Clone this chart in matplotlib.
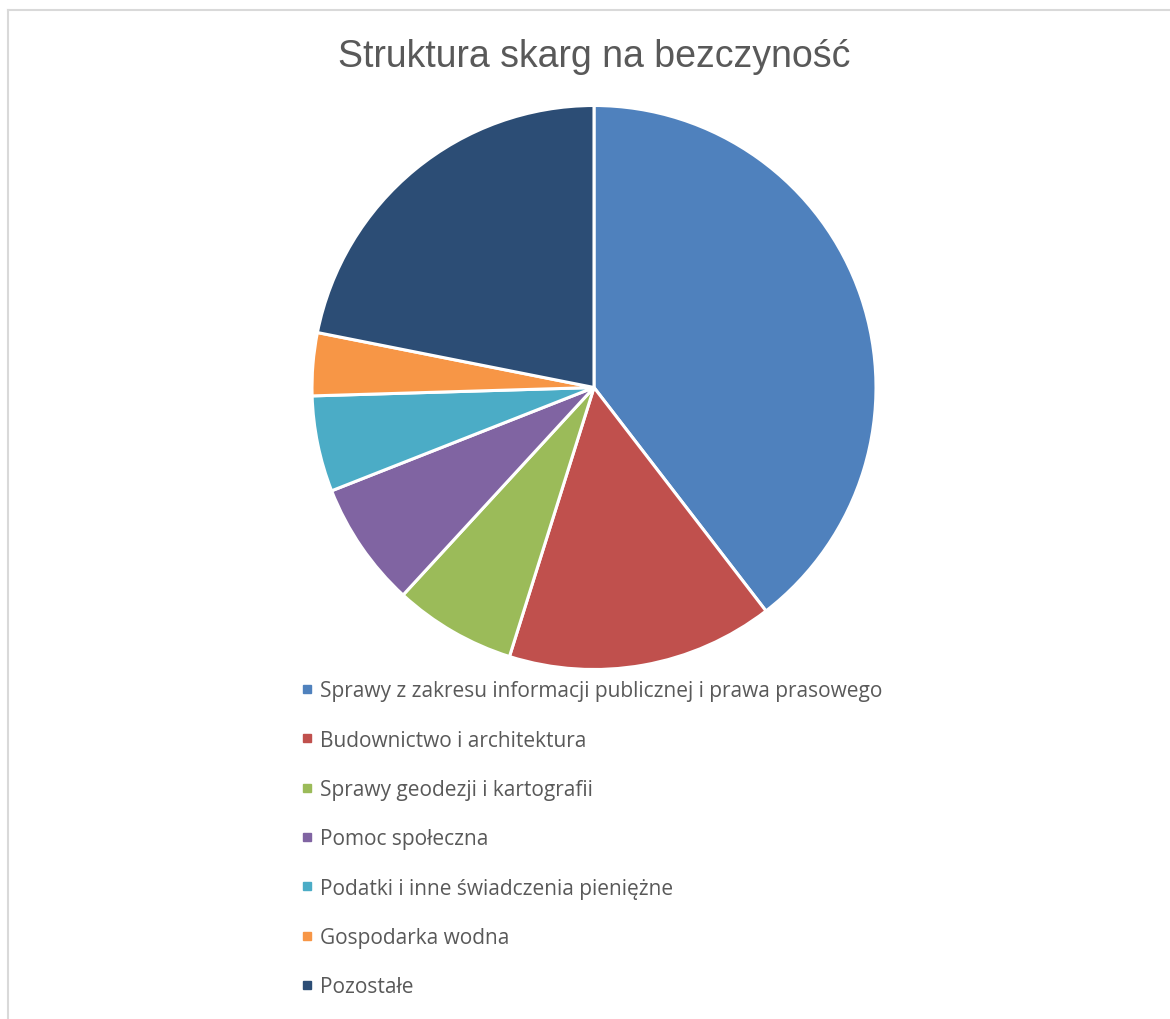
import matplotlib.pyplot as plt
from matplotlib.lines import Line2D

categories = [
    "Sprawy z zakresu informacji publicznej i prawa prasowego",
    "Budownictwo i architektura",
    "Sprawy geodezji i kartografii",
    "Pomoc społeczna",
    "Podatki i inne świadczenia pieniężne",
    "Gospodarka wodna",
    "Pozostałe",
]
shares = [39.6, 15.3, 7.0, 7.2, 5.5, 3.6, 21.9]
colors = ["#4F81BD", "#C0504D", "#9BBB59", "#8064A2", "#4BACC6", "#F79646", "#2C4D75"]

W, H = 1170, 1020
fig = plt.figure(figsize=(W / 100, H / 100), dpi=100)

# thin grey frame on top and left, as in the original export
fig.add_artist(Line2D([7.5 / W, 7.5 / W], [0, 1 - 11 / H], color="#d9d9d9", lw=1.5))
fig.add_artist(Line2D([7.5 / W, 1], [1 - 11 / H, 1 - 11 / H], color="#d9d9d9", lw=1.5))

cx, cy, r = 594, 388.5, 282
ax = fig.add_axes([(cx - r) / W, (H - cy - r) / H, 2 * r / W, 2 * r / H])
ax.pie(shares, colors=colors, startangle=90, counterclock=False, radius=1,
       wedgeprops=dict(edgecolor="white", linewidth=2.2))
ax.set_xlim(-1, 1)
ax.set_ylim(-1, 1)
ax.set_aspect("equal")
ax.axis("off")

fig.text(594 / W, 1 - 67 / H, "Struktura skarg na bezczyność", ha="center", va="baseline",
         fontsize=27, color="#595959", family="Liberation Sans")

handles = [Line2D([], [], marker="s", linestyle="none", markersize=6, color=c) for c in colors]
fig.legend(handles, categories, loc="upper left", bbox_to_anchor=(290 / W, 1 - 671 / H),
           frameon=False, handlelength=0.6, handletextpad=0.35, labelspacing=1.36,
           prop=dict(family="Open Sans", size=15), labelcolor="#595959", borderpad=0)

fig.savefig("out.png", dpi=100, facecolor="white")
